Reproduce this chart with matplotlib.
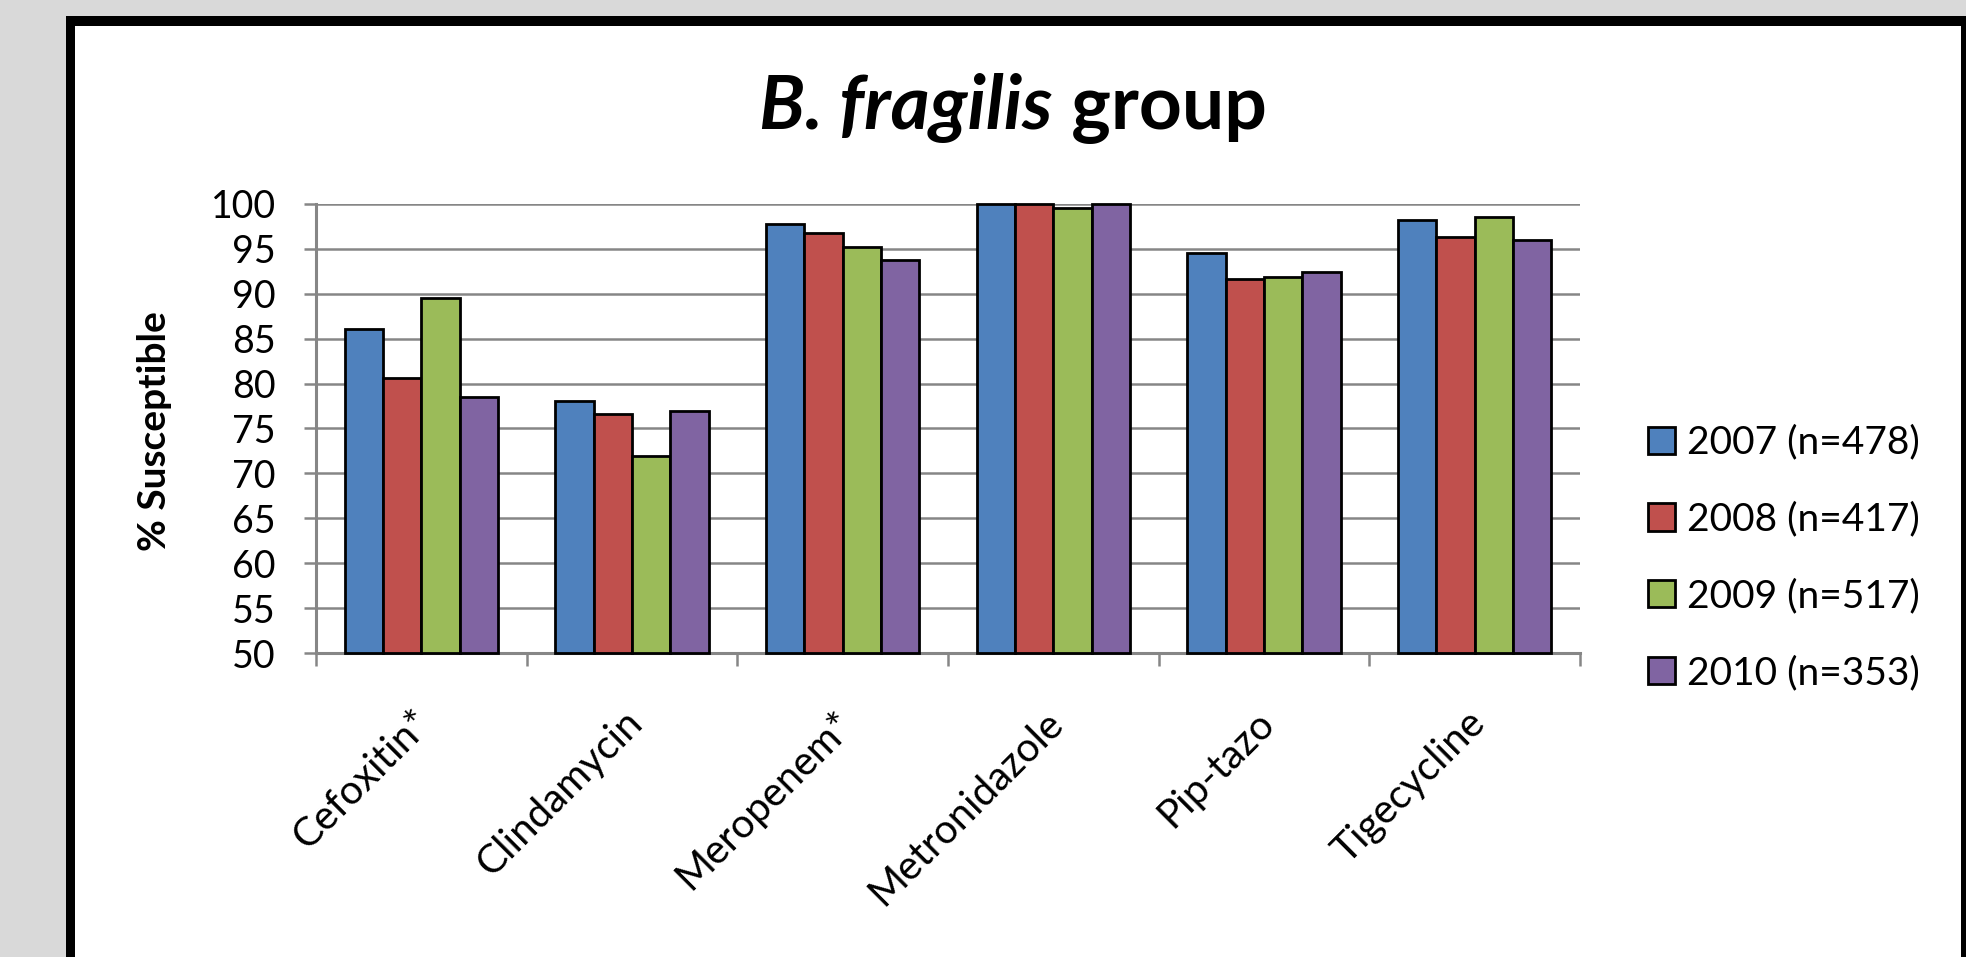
import numpy as np
import matplotlib
matplotlib.use("Agg")
import matplotlib.pyplot as plt
from matplotlib.patches import Rectangle, FancyBboxPatch
from matplotlib import transforms

W, H = 1966, 957
DPI = 100

drugs = ["Cefoxitin*", "Clindamycin", "Meropenem*", "Metronidazole", "Pip-tazo", "Tigecycline"]
years = ["2007 (n=478)", "2008 (n=417)", "2009 (n=517)", "2010 (n=353)"]
pct_2007 = [86.1, 78.1, 97.8, 100.0, 94.5, 98.2]
pct_2008 = [80.6, 76.6, 96.8, 100.0, 91.6, 96.3]
pct_2009 = [89.5, 71.9, 95.2, 99.6, 91.9, 98.5]
pct_2010 = [78.5, 77.0, 93.8, 100.0, 92.4, 96.0]
colors = ["#4F81BD", "#C0504D", "#9BBB59", "#8064A2"]
y_ticks = list(range(50, 101, 5))

plt.rcParams['font.family'] = ['Lato', 'DejaVu Sans']

fig = plt.figure(figsize=(W / DPI, H / DPI), dpi=DPI, facecolor='#d9d9d9')


def box(x0, y0, x1, y1):
    # pixel box measured from the top-left corner -> figure-fraction rect args
    return (x0 / W, 1 - y1 / H), (x1 - x0) / W, (y1 - y0) / H


# black slide frame with white panel inside
fig.add_artist(Rectangle(*box(66, 16, 2100, 1100), transform=fig.transFigure,
                         facecolor='black', edgecolor='none', zorder=-3))
fig.add_artist(Rectangle(*box(75, 26, 1961, 1100), transform=fig.transFigure,
                         facecolor='white', edgecolor='none', zorder=-2))

ax = fig.add_axes([316 / W, 1 - 653 / H, (1580 - 316) / W, (653 - 204) / H])
ax.set_facecolor('none')

y_min, y_max = 50, 100
series = [pct_2007, pct_2008, pct_2009, pct_2010]
n = len(series)
bw = 1 / 5.5
x = np.arange(len(drugs)) + 0.5
for j, (vals, c) in enumerate(zip(series, colors)):
    vals = np.array(vals)
    ax.bar(x + (j - (n - 1) / 2) * bw, vals - y_min, bottom=y_min, width=bw,
           color=c, edgecolor='black', linewidth=2, clip_on=False, zorder=3)

ax.set_xlim(0, len(drugs))
ax.set_ylim(y_min, y_max)
ax.set_yticks(y_ticks)
ax.set_xticks(np.arange(len(drugs) + 1))
ax.set_xticklabels([])
ax.yaxis.grid(True, color='#868686', linewidth=1.8)
ax.set_axisbelow(True)
for s in ['top', 'right']:
    ax.spines[s].set_visible(False)
for s in ['left', 'bottom']:
    ax.spines[s].set_color('#868686')
    ax.spines[s].set_linewidth(2.2)
ax.tick_params(axis='both', length=9, width=1.8, color='#868686', direction='out')
ax.tick_params(axis='y', labelsize=27, pad=20)

# rotated drug names under each group
lab_tr = transforms.blended_transform_factory(ax.transData, ax.transAxes)
for xi, name in zip(x, drugs):
    off = transforms.ScaledTranslation(4 / DPI, -64 / DPI, fig.dpi_scale_trans)
    ax.text(xi, 0, name, transform=lab_tr + off, rotation=45, fontsize=29,
            ha='right', va='center', rotation_mode='anchor')

fig.text(155 / W, 1 - 431 / H, "% Susceptible", rotation=90, fontsize=28,
         weight='bold', ha='center', va='center')

# title: italic genus name followed by upright word
r = fig.canvas.get_renderer()
t1 = fig.text(0, 1 - 129 / H, "B. fragilis", fontsize=54, weight='bold',
              style='italic', va='baseline')
t2 = fig.text(0, 1 - 129 / H, " group", fontsize=54, weight='bold', va='baseline')
w1 = t1.get_window_extent(r).width
w2 = t2.get_window_extent(r).width
x0 = 1013 - (w1 + w2) / 2
t1.set_x(x0 / W)
t2.set_x((x0 + w1) / W)

handles = [Rectangle((0, 0), 1, 1, facecolor=c, edgecolor='black', linewidth=2)
           for c in colors]
fig.legend(handles, years, loc='center left', bbox_to_anchor=(1648 / W, 1 - 558 / H),
           frameon=False, fontsize=28, handlelength=0.7, handleheight=0.7,
           handletextpad=0.3, labelspacing=1.05, borderpad=0, borderaxespad=0)

fig.savefig("out.png", dpi=DPI, facecolor=fig.get_facecolor())
